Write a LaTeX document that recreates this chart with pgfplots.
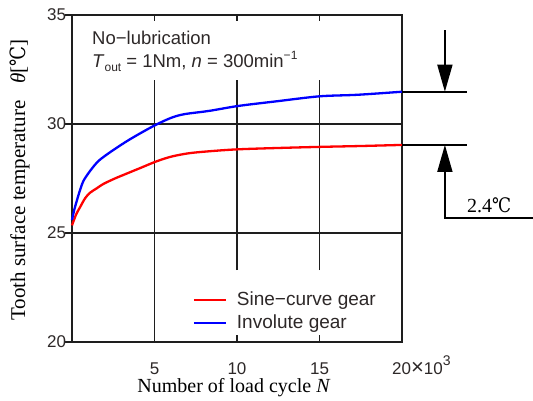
\documentclass[border=0pt]{standalone}
\usepackage{fontspec}
\setmainfont{Liberation Serif}
\newfontfamily\arial{Liberation Sans}
\newfontfamily\degfont{DejaVu Serif}
\usepackage{pgfplots}
\pgfplotsset{compat=1.18}
\usetikzlibrary{arrows.meta}

\definecolor{txt}{RGB}{45,40,40}
\definecolor{frame}{RGB}{30,30,30}
\newcommand{\degC}{{\degfont\scalebox{0.85}[1]{℃}}}

\pgfplotstableread{
N     T
0     25.35
0.25  25.85
0.5   26.2
0.8   26.6
1.1   26.85
1.5   27.05
1.9   27.25
2.6   27.5
3.3   27.72
4.2   28.0
5.1   28.28
6.0   28.5
7.1   28.66
8.5   28.76
10.1  28.84
12.5  28.9
15.0  28.95
17.5  28.99
20.0  29.04
}\sine

\pgfplotstableread{
N     T
0     25.6
0.15  26.1
0.3   26.5
0.5   27.0
0.7   27.4
1.1   27.85
1.6   28.3
2.3   28.7
3.3   29.2
4.2   29.6
5.1   29.97
6.0   30.28
6.8   30.45
8.3   30.6
10.1  30.83
12.5  31.05
15.0  31.27
17.3  31.34
20.0  31.48
}\involute

\begin{document}
\begin{tikzpicture}
\begin{axis}[
  at={(72pt,59pt)}, anchor=south west,
  width=330pt, height=327pt, scale only axis,
  xmin=0, xmax=20, ymin=20, ymax=35,
  clip=false,
  axis line style={frame, line width=1.4pt},
  xtick={5,10,15,20},
  xticklabels=\empty,
  ytick={20,25,30,35},
  xtick align=inside, ytick align=outside,
  ytick pos=left,
  major tick length=6.5pt,
  tick style={frame, line width=1.4pt},
  /pgf/number format/assume math mode=true,
  tick label style={font=\fontsize{17}{17}\arial, text=txt},
  yticklabel style={xshift=4pt},
  legend cell align=left,
  legend style={draw=none, fill=none, inner sep=0pt,
    at={(rel axis cs:0.365,0.093)}, anchor=west,
    font=\fontsize{19}{19}\arial, text=txt,
    nodes={inner sep=0pt, text height=14pt, text depth=4pt},
    row sep=5pt, column sep=10pt},
  legend image code/.code={\draw[#1] (0pt,0pt) -- (32pt,0pt);},
]
% grid segments, broken where the notes and the legend stand
\draw[frame, line width=1.5pt] (axis cs:0,25) -- (axis cs:20,25);
\draw[frame, line width=1.5pt] (axis cs:0,30) -- (axis cs:20,30);
\draw[frame, line width=1.5pt] (axis cs:5,20) -- (axis cs:5,32.0);
\draw[frame, line width=1.5pt] (axis cs:10,23.3) -- (axis cs:10,32.0);
\draw[frame, line width=1.5pt] (axis cs:15,23.3) -- (axis cs:15,32.0);

\addplot[red, line width=2.3pt, smooth] table[x=N, y=T] {\sine};
\addlegendentry{Sine−curve gear}
\addplot[blue, line width=2.3pt, smooth] table[x=N, y=T] {\involute};
\addlegendentry{Involute gear}

% 2.4 degC difference marker
\draw[black, line width=1.6pt] (axis cs:20,31.48) -- (axis cs:23.94,31.48);
\draw[black, line width=1.6pt] (axis cs:20,29.04) -- (axis cs:23.94,29.04);
\draw[black, line width=1.6pt, -{Triangle[length=27pt,width=15pt]}]
  (axis cs:22.6,34.31) -- (axis cs:22.6,31.48);
\draw[black, line width=1.6pt, {Triangle[length=27pt,width=15pt]}-]
  (axis cs:22.6,29.04) -- (axis cs:22.6,25.69) -- (axis cs:27.94,25.69);
\node[anchor=base west, inner sep=0pt, font=\fontsize{20}{20}\selectfont]
  at (axis cs:23.94,25.96) {2.4\degC};
\end{axis}

% x tick labels, set by hand so that the last one carries the multiplier
\begin{scope}[every node/.style={inner sep=0pt, text=txt, font=\fontsize{17}{17}\arial}]
\node[anchor=base] at (154.5pt,26pt) {5};
\node[anchor=base] at (237pt,26pt) {10};
\node[anchor=base] at (319.5pt,26pt) {15};
\node[anchor=base west] at (392pt,26pt) {20\raisebox{0.5pt}{\fontsize{22}{22}\selectfont ×}10\raisebox{9pt}{\fontsize{14}{14}\selectfont 3}};
\end{scope}

\node[anchor=base west, inner sep=0pt, text=txt, font=\fontsize{18.5}{18.5}\arial]
  at (92pt,356pt) {No−lubrication};
\node[anchor=base west, inner sep=0pt, text=txt, font=\fontsize{18.5}{18.5}\arial]
  at (92pt,333pt) {\textit{T}\raisebox{-4pt}{\fontsize{12}{12}\selectfont out} = 1Nm, \textit{n} = 300min\raisebox{8pt}{\fontsize{12}{12}\selectfont −1}};

\node[anchor=base, inner sep=0pt, font=\fontsize{20}{20}\selectfont]
  at (234pt,8pt) {Number of load cycle \textit{N}};
\node[rotate=90, anchor=base, inner sep=0pt, font=\fontsize{21}{21}\selectfont]
  at (25pt,221pt) {Tooth surface temperature\hspace{17pt}\textit{θ}[\degC]};

\pgfresetboundingbox
\path (0pt,0pt) rectangle (533pt,401pt);
\end{tikzpicture}
\end{document}
